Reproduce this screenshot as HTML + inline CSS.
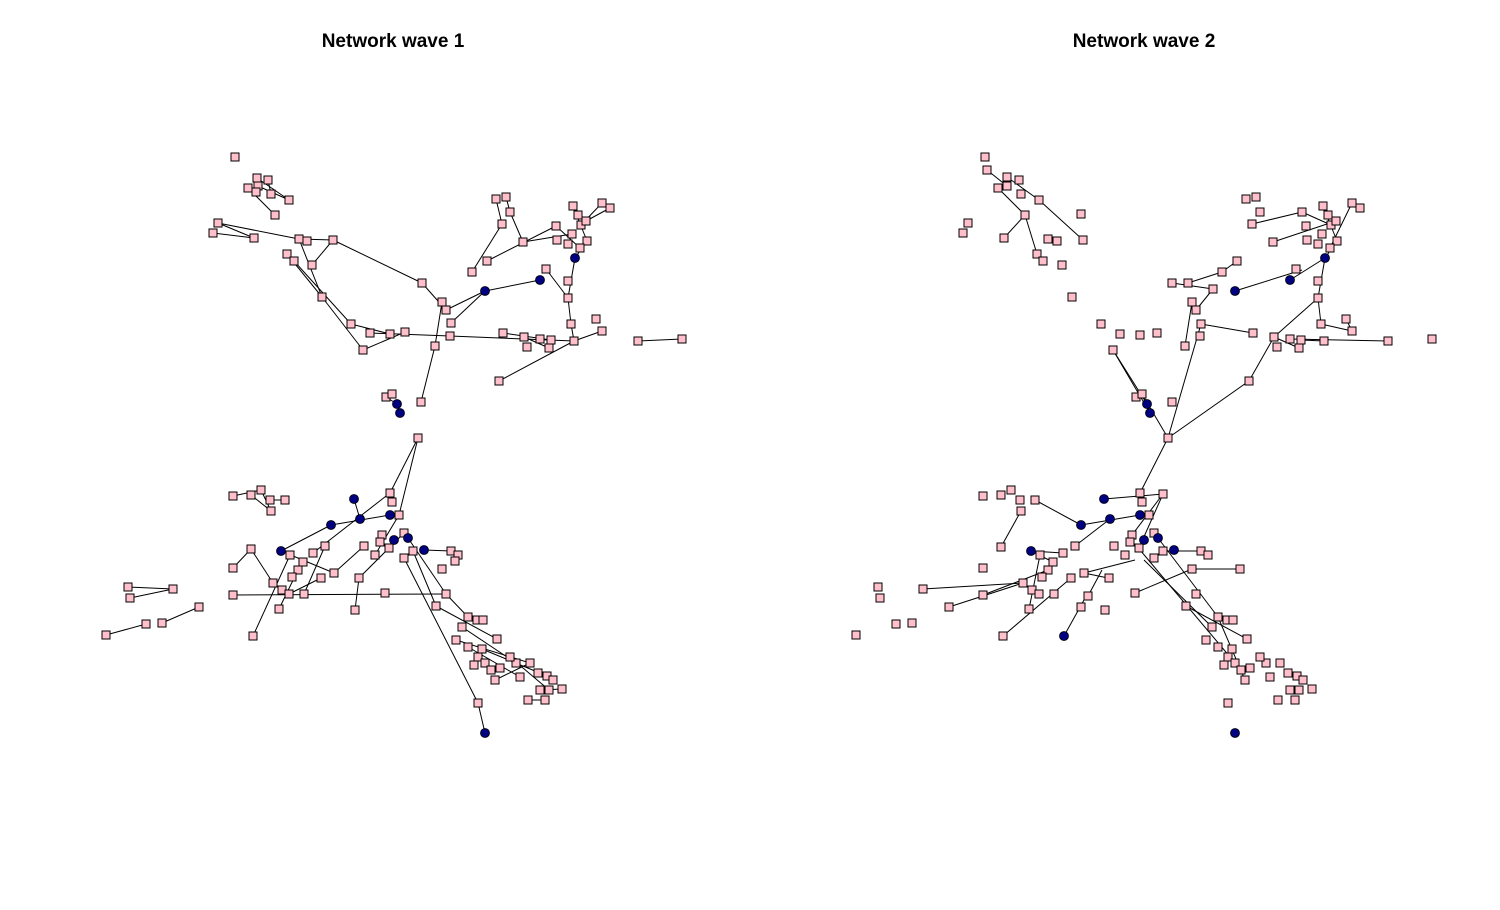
<!DOCTYPE html>
<html><head><meta charset="utf-8"><style>
html,body{margin:0;padding:0;background:#fff;}
svg{display:block;}
</style></head><body>
<svg id="s" width="1500" height="910" xmlns="http://www.w3.org/2000/svg">
<rect width="1500" height="910" fill="#fff"/>
<text x="393" y="47" text-anchor="middle" font-family="Liberation Sans, sans-serif" font-weight="bold" font-size="19">Network wave 1</text>
<text x="1144" y="47" text-anchor="middle" font-family="Liberation Sans, sans-serif" font-weight="bold" font-size="19">Network wave 2</text>
<g id="e" stroke="#000" stroke-width="1" fill="none"></g>
<g id="n"></g>
</svg>
<script>
var SQ=[[235,157],[257,178],[268,180],[258,186],[248,188],[256,192],[271,194],[289,200],[275,215],[218,223],[213,233],[254,238],[299,239],[307,241],[333,240],[287,254],[294,261],[312,265],[322,297],[351,324],[370,333],[363,350],[390,334],[405,332],[422,283],[442,302],[446,310],[451,323],[435,346],[450,336],[421,402],[386,397],[392,394],[503,333],[524,337],[527,347],[540,339],[549,348],[551,340],[574,341],[571,324],[602,331],[596,319],[568,298],[568,281],[546,269],[499,381],[472,272],[487,261],[502,224],[496,199],[506,197],[510,212],[523,242],[556,226],[557,240],[572,234],[581,225],[586,221],[573,206],[578,215],[587,241],[568,244],[580,248],[602,203],[610,208],[638,341],[682,339],
[418,438],[390,493],[392,502],[399,515],[382,535],[404,533],[380,542],[364,546],[375,555],[389,548],[413,551],[404,558],[359,578],[334,573],[321,578],[313,553],[325,546],[303,562],[298,570],[292,577],[290,555],[251,549],[233,568],[273,583],[282,590],[289,594],[304,594],[279,609],[233,595],[385,593],[355,610],[253,636],[233,496],[251,495],[261,490],[270,500],[285,500],[271,511],[128,587],[130,598],[173,589],[199,607],[162,623],[146,624],[106,635],[446,594],[436,606],[451,551],[458,555],[442,569],[455,561],[468,617],[477,620],[483,620],[462,627],[456,640],[468,647],[497,639],[482,649],[478,657],[474,665],[485,663],[491,670],[500,668],[516,663],[530,663],[510,657],[520,677],[538,673],[547,676],[553,680],[549,690],[562,689],[540,690],[528,700],[545,700],[495,680],[478,703],
[985,157],[987,170],[1007,177],[1019,180],[1007,186],[998,188],[1021,194],[1039,200],[1025,215],[1081,214],[968,223],[963,233],[1004,238],[1048,239],[1057,241],[1083,240],[1037,254],[1043,261],[1062,265],[1072,297],[1101,324],[1120,334],[1140,335],[1157,333],[1113,350],[1172,283],[1192,302],[1196,310],[1201,324],[1185,346],[1200,336],[1172,402],[1136,397],[1142,394],[1253,333],[1274,337],[1277,347],[1290,339],[1299,348],[1301,340],[1324,341],[1321,324],[1352,331],[1346,319],[1318,298],[1318,281],[1296,269],[1249,381],[1222,272],[1237,261],[1252,224],[1246,199],[1256,197],[1260,212],[1273,242],[1306,226],[1307,240],[1322,234],[1331,225],[1336,221],[1323,206],[1328,215],[1337,241],[1318,244],[1330,248],[1352,203],[1360,208],[1388,341],[1432,339],[1188,283],[1213,289],[1168,438],[1302,212],
[1140,493],[1142,502],[1149,515],[1132,535],[1154,533],[1130,542],[1114,546],[1125,555],[1139,548],[1163,551],[1154,558],[1109,578],[1084,573],[1071,578],[1063,553],[1075,546],[1053,562],[1048,570],[1042,577],[1040,555],[1001,547],[983,568],[1023,583],[1032,590],[1039,594],[1054,594],[1029,609],[983,595],[1135,593],[1105,610],[1003,636],[983,496],[1001,495],[1011,490],[1020,500],[1035,500],[1021,511],[878,587],[880,598],[923,589],[949,607],[912,623],[896,624],[856,635],[1196,594],[1186,606],[1201,551],[1208,555],[1192,569],[1240,569],[1218,617],[1227,620],[1233,620],[1212,627],[1206,640],[1218,647],[1247,639],[1232,649],[1228,657],[1224,665],[1235,663],[1241,670],[1250,668],[1266,663],[1280,663],[1260,657],[1270,677],[1288,673],[1297,676],[1303,680],[1299,690],[1312,689],[1290,690],[1278,700],[1295,700],[1245,680],[1228,703],[1163,494],[1088,596],[1081,607]];
var CI=[[485,291],[540,280],[575,258],[397,404],[400,413],[354,499],[331,525],[360,519],[390,515],[394,540],[408,538],[424,550],[281,551],[485,733],
[1235,291],[1290,280],[1325,258],[1147,404],[1150,413],[1104,499],[1081,525],[1110,519],[1140,515],[1144,540],[1158,538],[1174,550],[1031,551],[1235,733],[1064,636]];
var E=[[257,178,289,200],[248,188,275,215],[268,180,271,194],[258,186,289,200],[218,223,254,238],[213,233,254,238],[218,223,299,239],[299,239,333,240],[333,240,422,283],[299,239,322,297],[287,254,322,297],[312,265,333,240],[322,297,363,350],[294,261,351,324],[351,324,390,334],[363,350,405,332],[370,333,450,336],[450,336,574,341],[422,283,446,310],[446,310,485,291],[485,291,540,280],[451,323,485,291],[435,346,442,302],[421,402,435,346],[472,272,502,224],[487,261,556,226],[496,199,502,224],[506,197,510,212],[510,212,523,242],[523,242,572,234],[556,226,580,248],[573,206,587,241],[602,203,581,225],[610,208,586,221],[575,258,587,241],[575,258,568,298],[546,269,568,298],[568,298,571,324],[571,324,574,341],[574,341,602,331],[499,381,574,341],[503,333,551,340],[524,337,549,348],[638,341,682,339],[386,397,397,404],
[418,438,390,493],[418,438,399,515],[390,493,392,502],[354,499,360,519],[331,525,390,515],[331,525,281,551],[281,551,334,573],[251,549,273,583],[233,568,251,549],[233,595,446,594],[128,587,173,589],[130,598,173,589],[106,635,146,624],[162,623,199,607],[253,636,290,555],[304,594,325,546],[334,573,364,546],[359,578,404,533],[355,610,359,578],[408,538,446,594],[413,551,436,606],[404,558,478,703],[478,703,485,733],[424,550,451,551],[446,594,468,617],[436,606,497,639],[456,640,530,663],[482,649,547,676],[468,647,520,677],[495,680,530,663],[528,700,545,700],[540,690,562,689],[510,657,549,690],[462,627,516,663],[313,553,390,493],[375,555,399,515],[289,594,321,578],[279,609,298,570],[270,500,285,500],[233,496,261,490],[251,495,271,511],[261,490,271,511],
[987,170,1007,186],[1007,177,1039,200],[998,188,1025,215],[1025,215,1004,238],[1025,215,1037,254],[1039,200,1083,240],[1113,350,1147,404],[1113,350,1150,413],[1142,394,1168,438],[1168,438,1249,381],[1249,381,1274,337],[1168,438,1140,493],[1168,438,1201,324],[1201,324,1253,333],[1185,346,1192,302],[1172,283,1213,289],[1222,272,1237,261],[1188,283,1222,272],[1213,289,1196,310],[1235,291,1302,270],[1290,280,1325,258],[1325,258,1337,241],[1318,298,1325,258],[1318,298,1321,324],[1318,298,1274,337],[1274,337,1299,348],[1290,339,1388,341],[1301,340,1324,341],[1273,242,1336,221],[1252,224,1302,212],[1302,212,1331,225],[1323,206,1337,241],[1352,203,1330,248],[1321,324,1352,331],[1346,319,1352,331],
[1104,499,1163,494],[1081,525,1140,515],[1035,500,1081,525],[1021,511,1001,547],[1031,551,1063,553],[1031,551,1053,562],[1075,546,1110,519],[1084,573,1135,560],[923,589,1023,583],[949,607,1023,583],[983,595,1048,570],[1003,636,1071,578],[1029,609,1040,555],[1064,636,1084,600],[1084,573,1108,578],[1135,593,1192,569],[1192,569,1240,569],[1158,538,1218,617],[1144,560,1212,627],[1186,606,1247,639],[1140,550,1241,670],[1218,617,1245,680],[1201,551,1163,551],[1088,596,1102,570],[1139,548,1163,494],[1132,535,1163,494]];
var NS="http://www.w3.org/2000/svg",eg=document.getElementById("e"),ng=document.getElementById("n");
E.forEach(function(a){var l=document.createElementNS(NS,"line");l.setAttribute("x1",a[0]);l.setAttribute("y1",a[1]);l.setAttribute("x2",a[2]);l.setAttribute("y2",a[3]);eg.appendChild(l);});
SQ.forEach(function(p){var r=document.createElementNS(NS,"rect");r.setAttribute("x",p[0]-4);r.setAttribute("y",p[1]-4);r.setAttribute("width",8);r.setAttribute("height",8);r.setAttribute("fill","#FFC0CB");r.setAttribute("stroke","#000");r.setAttribute("stroke-width","1");ng.appendChild(r);});
CI.forEach(function(p){var c=document.createElementNS(NS,"circle");c.setAttribute("cx",p[0]);c.setAttribute("cy",p[1]);c.setAttribute("r",4.5);c.setAttribute("fill","#000080");c.setAttribute("stroke","#000");c.setAttribute("stroke-width","0.8");ng.appendChild(c);});
</script>
</body></html>
